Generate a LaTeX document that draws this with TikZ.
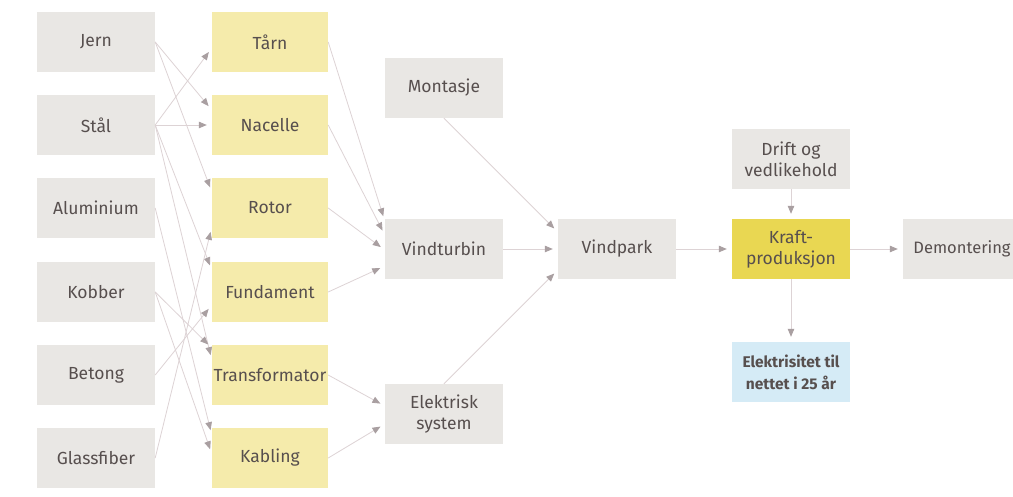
\documentclass[tikz,border=0pt]{standalone}
\usepackage{fontspec}
\setmainfont{Fira Sans}
\usetikzlibrary{arrows.meta,calc}
\definecolor{boxg}{HTML}{E9E7E4}
\definecolor{compy}{HTML}{F5EBAB}
\definecolor{krafty}{HTML}{E9D752}
\definecolor{elblue}{HTML}{D5EBF6}
\definecolor{txt}{HTML}{574F4E}
\definecolor{linec}{HTML}{DDD3D5}
\definecolor{tipc}{HTML}{A99FA1}
\begin{document}
\begin{tikzpicture}[x=1pt,y=-1pt,
  box/.style={draw=none,fill=boxg,minimum width=118pt,minimum height=60pt,inner sep=0pt,text=txt,font=\fontsize{17.5}{21}\selectfont,align=center},
  comp/.style={box,fill=compy,minimum width=116pt},
  link/.style={draw=linec,line width=0.8pt,-{Triangle[length=8pt,width=6.5pt,color=tipc]},shorten >=5pt}
]
\useasboundingbox[fill=white] (0,0) rectangle (1013,497);

% materials
\node[box] (jern)  at (96,42)  {Jern};
\node[box] (staal) at (96,125) {Stål};
\node[box] (alu)   at (96,208) {Aluminium};
\node[box] (kob)   at (96,292) {Kobber};
\node[box] (bet)   at (96,375) {Betong};
\node[box] (glass) at (96,458) {Glassfiber};

% components
\node[comp] (taarn) at (270,42)  {Tårn};
\node[comp] (nac)   at (270,125) {Nacelle};
\node[comp] (rot)   at (270,208) {Rotor};
\node[comp] (fund)  at (270,292) {Fundament};
\node[comp] (trafo) at (270,375) {Transformator};
\node[comp] (kab)   at (270,458) {Kabling};

% assembly
\node[box] (mont) at (444,88)  {Montasje};
\node[box] (vt)   at (444,249) {Vindturbin};
\node[box] (el)   at (444,414) {Elektrisk\\system};
\node[box] (vp)   at (617,249) {Vindpark};
\node[box] (drift) at (791,159) {Drift og\\vedlikehold};
\node[box,fill=krafty] (kraft) at (791,249) {Kraft-\\produksjon};
\node[box,fill=elblue,font=\bfseries\fontsize{15.5}{22}\selectfont] (elnet) at (791,372) {Elektrisitet til\\nettet i 25 år};
\node[box,font=\fontsize{16.5}{20}\selectfont] (demo) at (962,249) {Demontering};

% materials -> components
\draw[link] (jern.east)  -- ($(nac.west)+(0,-15)$);
\draw[link] (jern.east)  -- ($(rot.west)+(0,-16)$);
\draw[link] (staal.east) -- ($(taarn.west)+(0,6)$);
\draw[link] (staal.east) -- (nac.west);
\draw[link] (staal.east) -- ($(fund.west)+(0,-22)$);
\draw[link] (staal.east) -- ($(trafo.west)+(0,-15)$);
\draw[link] (alu.east)   -- ($(kab.west)+(0,-23)$);
\draw[link] (kob.east)   -- ($(trafo.west)+(0,-27)$);
\draw[link] (kob.east)   -- ($(kab.west)+(0,-4)$);
\draw[link] (bet.east)   -- ($(fund.west)+(0,13)$);
\draw[link] (glass.east) -- ($(rot.west)+(0,19)$);

% components -> assemblies
\draw[link] (taarn.east) -- ($(vt.west)+(0,-28)$);
\draw[link] (nac.east)   -- ($(vt.west)+(0,-14)$);
\draw[link] (rot.east)   -- ($(vt.west)+(0,1)$);
\draw[link] (fund.east)  -- ($(vt.west)+(0,17)$);
\draw[link] (trafo.east) -- ($(el.west)+(0,-8)$);
\draw[link] (kab.east)   -- ($(el.west)+(0,10)$);

% -> vindpark
\draw[link] (mont.south) -- ($(vp.west)+(0,-17)$);
\draw[link] (vt.east)    -- (vp.west);
\draw[link] (el.north)   -- ($(vp.west)+(0,21)$);

% power production
\draw[link] (vp.east)    -- (kraft.west);
\draw[link] (drift.south) -- (kraft.north);
\draw[link] (kraft.south) -- (elnet.north);
\draw[link] (kraft.east) -- (demo.west);
\end{tikzpicture}
\end{document}
